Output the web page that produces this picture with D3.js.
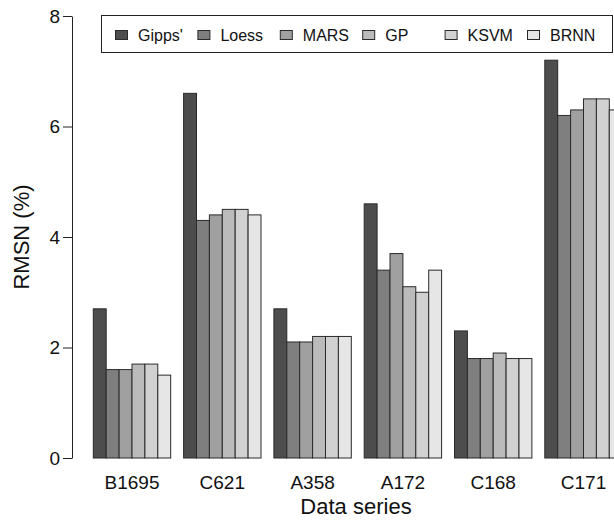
<!DOCTYPE html>
<html>
<head>
<meta charset="utf-8">
<script src="https://cdn.jsdelivr.net/npm/d3@7"></script>
<style>
  body { margin: 0; background: #fff; }
  svg { font-family: "Liberation Sans", Arial, sans-serif; }
</style>
</head>
<body>
<script>
// data
var groups = ["B1695", "C621", "A358", "A172", "C168", "C171"];
var models = ["Gipps'", "Loess", "MARS", "GP", "KSVM", "BRNN"];
var gipps = [2.7, 6.6, 2.7, 4.6, 2.3, 7.2];
var loess = [1.6, 4.3, 2.1, 3.4, 1.8, 6.2];
var mars  = [1.6, 4.4, 2.1, 3.7, 1.8, 6.3];
var gp    = [1.7, 4.5, 2.2, 3.1, 1.9, 6.5];
var ksvm  = [1.7, 4.5, 2.2, 3.0, 1.8, 6.5];
var brnn  = [1.5, 4.4, 2.2, 3.4, 1.8, 6.3];
var yTicks = [0, 2, 4, 6, 8];

var series = [gipps, loess, mars, gp, ksvm, brnn];
var fills = ["#4d4d4d", "#7f7f7f", "#a0a0a0", "#bbbbbb", "#d1d1d1", "#e6e6e6"];

var w = 614, h = 520;

var svg = d3.select("body").append("svg")
    .attr("width", w)
    .attr("height", h);

var y = d3.scaleLinear().domain([0, 8]).range([458, 16]);

var x0 = d3.scaleBand()
    .domain(groups)
    .range([93.3, 622.2])
    .paddingInner(1 / 7)
    .paddingOuter(0);

var x1 = d3.scaleBand()
    .domain(models)
    .range([0, x0.bandwidth()]);

var color = d3.scaleOrdinal().domain(models).range(fills);

// y axis
var yAxis = svg.append("g")
    .attr("transform", "translate(72,0)")
    .call(d3.axisLeft(y).tickValues(yTicks).tickSize(9).tickSizeOuter(0).tickPadding(3));
yAxis.select(".domain").attr("stroke", "#222");
yAxis.selectAll(".tick line").attr("stroke", "#222");
yAxis.selectAll("text")
    .style("font-size", "19px")
    .attr("fill", "#111")
    .attr("font-family", "Liberation Sans, Arial, sans-serif");

// bars
var cells = svg.selectAll(".grp")
    .data(groups)
    .enter()
    .append("g")
    .attr("class", "grp")
    .attr("transform", (d) => "translate(" + x0(d) + ",0)");

cells.selectAll("rect")
    .data((d, i) => models.map((m, j) => ({ model: m, value: series[j][i] })))
    .enter()
    .append("rect")
    .attr("x", (d) => x1(d.model))
    .attr("y", (d) => y(d.value))
    .attr("width", x1.bandwidth())
    .attr("height", (d) => y(0) - y(d.value))
    .attr("fill", (d) => color(d.model))
    .attr("stroke", "#2a2a2a")
    .attr("stroke-width", 1);

// group labels
svg.selectAll(".glabel")
    .data(groups)
    .enter()
    .append("text")
    .attr("class", "glabel")
    .attr("x", (d) => x0(d) + x0.bandwidth() / 2)
    .attr("y", 489)
    .attr("text-anchor", "middle")
    .style("font-size", "19px")
    .attr("fill", "#111")
    .text((d) => d);

// axis titles
svg.append("text")
    .attr("x", 356)
    .attr("y", 514)
    .attr("text-anchor", "middle")
    .style("font-size", "22px")
    .attr("fill", "#111")
    .text("Data series");

svg.append("text")
    .attr("transform", "translate(29,237) rotate(-90)")
    .attr("text-anchor", "middle")
    .style("font-size", "22px")
    .attr("fill", "#111")
    .text("RMSN (%)");

// legend
var legBox = svg.append("rect")
    .attr("x", 101.5)
    .attr("y", 15.5)
    .attr("width", 511)
    .attr("height", 37)
    .attr("fill", "#fff")
    .attr("stroke", "#222");

var lx = d3.scalePoint().domain(models).range([115, 527]);

var legend = svg.selectAll(".legend-item")
    .data(models)
    .enter()
    .append("g")
    .attr("class", "legend-item")
    .attr("transform", (d) => "translate(" + lx(d) + ",35)");

legend.append("rect")
    .attr("x", 0.5)
    .attr("y", -4.5)
    .attr("width", 12)
    .attr("height", 9)
    .attr("fill", (d) => color(d))
    .attr("stroke", "#2a2a2a");

legend.append("text")
    .attr("x", 23)
    .attr("y", 6)
    .style("font-size", "16px")
    .attr("fill", "#111")
    .text((d) => d);
</script>
</body>
</html>
